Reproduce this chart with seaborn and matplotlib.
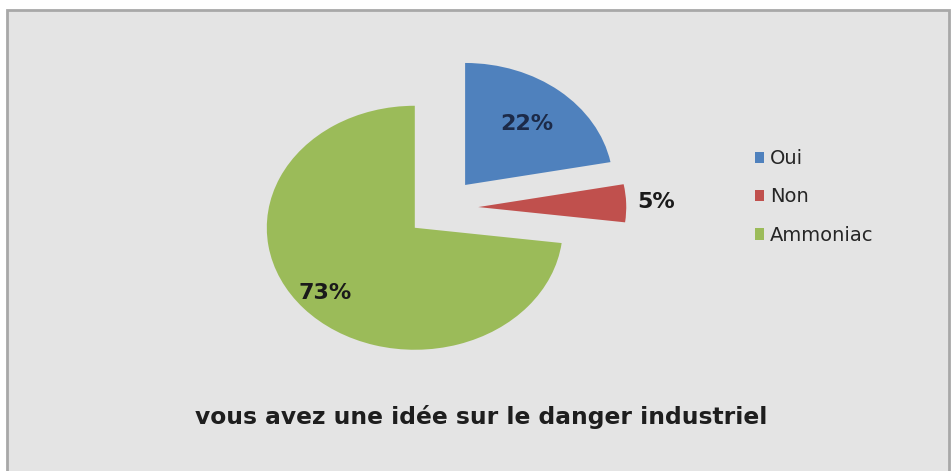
import numpy as np
import matplotlib
matplotlib.use("Agg")
import matplotlib.pyplot as plt
from matplotlib.patches import Rectangle
import seaborn as sns

# Survey answers
categories = ["Oui", "Non", "Ammoniac"]
shares = [22, 5, 73]
colors = ["#4f81bd", "#c0504d", "#9bbb59"]
label_colors = ["#1c2a48", "#1a1a1a", "#1a1a1a"]
title = "vous avez une idée sur le danger industriel"

sns.set_theme(style="white")
plt.rcParams["font.family"] = ["DejaVu Sans"]

W, H = 951, 471
fig = plt.figure(figsize=(W / 100, H / 100), dpi=100)
fig.patch.set_facecolor("white")

# chart panel with grey border
panel = Rectangle((7 / W, -0.05), 942 / W, 1.05 - 10 / H,
                  transform=fig.transFigure, facecolor="#e4e4e4",
                  edgecolor="#a8a8a8", linewidth=2.0, zorder=0)
fig.add_artist(panel)

# pie axes: slightly wider than tall
cx, cy, rx, ry = 442, 208, 148, 122
lim = 1.5
ax = fig.add_axes([(cx - lim * rx) / W, 1 - (cy + lim * ry) / H,
                   2 * lim * rx / W, 2 * lim * ry / H])
ax.set_facecolor("none")

wedges, _ = ax.pie(shares, colors=colors, startangle=90, counterclock=False,
                   explode=[0.245] * 3, radius=1.0,
                   wedgeprops=dict(linewidth=0))
ax.set_aspect("auto")
ax.set_xlim(-lim, lim)
ax.set_ylim(-lim, lim)
ax.axis("off")

# percentage labels
dists = [0.65, 1.2, 0.81]
for w, v, d, c in zip(wedges, shares, dists, label_colors):
    mid = np.deg2rad((w.theta1 + w.theta2) / 2)
    x = w.center[0] + d * w.r * np.cos(mid)
    y = w.center[1] + d * w.r * np.sin(mid)
    ax.text(x, y, f"{v}%", ha="center", va="center", fontsize=16,
            fontweight="bold", color=c)

fig.legend(wedges, categories, loc="center left",
           bbox_to_anchor=(737 / W, 1 - 197 / H), frameon=False,
           fontsize=14, handlelength=0.5, handleheight=0.5,
           handletextpad=0.3, labelspacing=1.0, labelcolor="#262626")

fig.text(481 / W, 1 - 417 / H, title, ha="center", va="center",
         fontsize=16.8, fontweight="bold", color="#1e1e1e")

fig.savefig("out.png", dpi=100, facecolor="white")
